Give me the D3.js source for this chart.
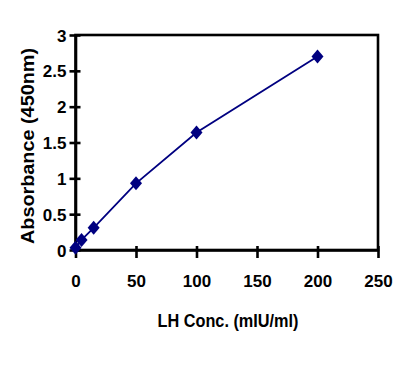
<!DOCTYPE html>
<html>
<head>
<meta charset="utf-8">
<script src="https://cdn.jsdelivr.net/npm/d3@7"></script>
<style>
html,body{margin:0;padding:0;background:#fff;}
svg{display:block;}
text{font-family:"Liberation Sans",Arial,sans-serif;fill:#000;}
</style>
</head>
<body>
<svg id="chart" width="419" height="366"></svg>
<script>
// Data
const concentrations = [0, 5, 15, 50, 100, 200];
const absorbance = [0.03, 0.14, 0.31, 0.93, 1.64, 2.70];
const xTicks = [0, 50, 100, 150, 200, 250];
const yTicks = [0, 0.5, 1, 1.5, 2, 2.5, 3];
const xTitle = "LH Conc. (mIU/ml)";
const yTitle = "Absorbance (450nm)";

(function () {
const svg = d3.select("#chart");
const pl = 75.5, pr = 378, pt = 35, pb = 250;

const x = d3.scaleLinear().domain([0, 250]).range([pl, pr]);
const y = d3.scaleLinear().domain([0, 3]).range([pb, pt]);

// Plot box
svg.append("rect")
  .attr("x", pl).attr("y", pt)
  .attr("width", pr - pl).attr("height", pb - pt)
  .attr("fill", "none").attr("stroke", "#000").attr("stroke-width", 2.6);

// Axes (cross tick marks)
const xAxis = svg.append("g").attr("transform", `translate(0,${pb})`)
  .call(d3.axisBottom(x).tickValues(xTicks).tickSize(7).tickSizeOuter(0).tickFormat(d3.format("d")));
const yAxis = svg.append("g").attr("transform", `translate(${pl},0)`)
  .call(d3.axisLeft(y).tickValues(yTicks).tickSize(7).tickSizeOuter(0).tickFormat(d => String(d)));

[xAxis, yAxis].forEach(g => {
  g.select(".domain").attr("stroke", "#000").attr("stroke-width", 2.6);
  g.selectAll(".tick line").attr("stroke", "#000").attr("stroke-width", 2.6);
  g.selectAll(".tick text").attr("font-size", 17).attr("font-weight", "bold")
    .attr("font-family", "Liberation Sans, Arial, sans-serif").attr("fill", "#000");
});
xAxis.selectAll(".tick line").attr("y1", -4).attr("y2", 8);
yAxis.selectAll(".tick line").attr("x1", 5).attr("x2", -6);
xAxis.selectAll(".tick text").attr("y", 25).attr("dy", "0.71em");
yAxis.selectAll(".tick text").attr("x", -9).attr("dy", "0.36em");

// Line
const line = d3.line().x((d, i) => x(concentrations[i])).y(d => y(d));
svg.append("path").datum(absorbance)
  .attr("d", line).attr("fill", "none").attr("stroke", "#000080").attr("stroke-width", 1.8);

// Markers (diamond)
const diamond = {
  draw(ctx, size) {
    const w = 6, h = 7;
    ctx.moveTo(0, -h); ctx.lineTo(w, 0); ctx.lineTo(0, h); ctx.lineTo(-w, 0); ctx.closePath();
  }
};
svg.selectAll(".pt").data(absorbance).enter().append("path")
  .attr("class", "pt")
  .attr("transform", (d, i) => `translate(${x(concentrations[i])},${y(d)})`)
  .attr("d", d3.symbol().type(diamond).size(64)())
  .attr("fill", "#000080");

// Titles
svg.append("text")
  .attr("x", 228).attr("y", 327)
  .attr("text-anchor", "middle").attr("font-size", 18).attr("font-weight", "bold")
  .attr("textLength", 141).attr("lengthAdjust", "spacingAndGlyphs")
  .text(xTitle);
svg.append("text")
  .attr("transform", "translate(34,146) rotate(-90)")
  .attr("text-anchor", "middle").attr("font-size", 19).attr("font-weight", "bold")
  .attr("textLength", 196).attr("lengthAdjust", "spacingAndGlyphs")
  .text(yTitle);
})();
</script>
</body>
</html>
